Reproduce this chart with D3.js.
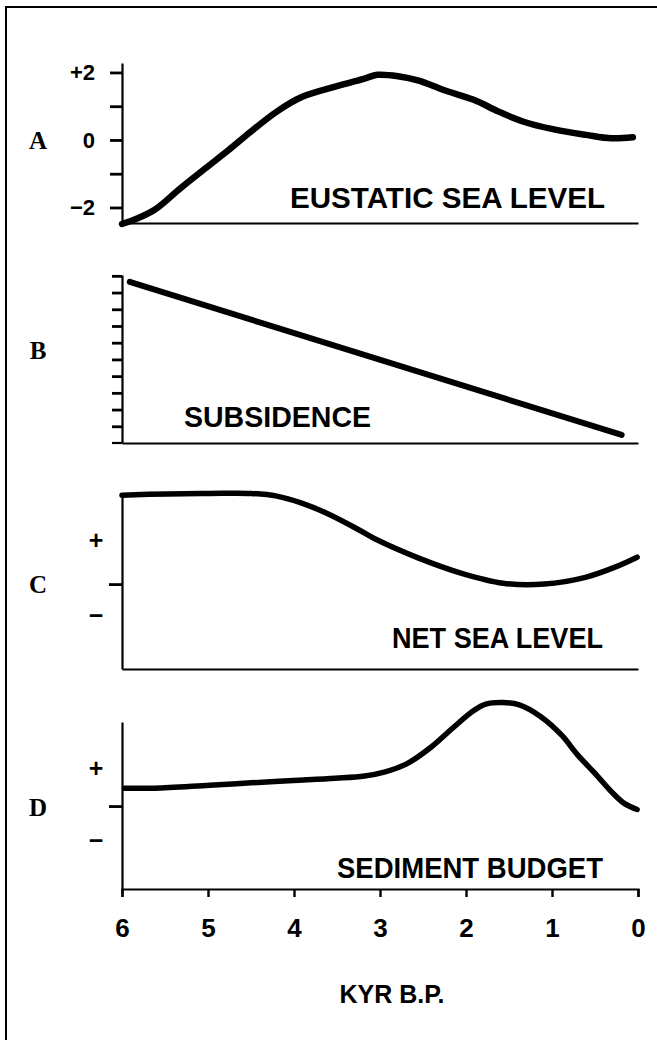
<!DOCTYPE html>
<html>
<head>
<meta charset="utf-8">
<script src="https://cdn.jsdelivr.net/npm/d3@7"></script>
<style>
    body { margin: 0; background: #fff; }
    svg { display: block; }
</style>
</head>
<body>
<div id="chart"></div>
<script>
// time axis, thousands of years before present
const kyrTicks = [6, 5, 4, 3, 2, 1, 0];

// A - eustatic sea level (m)
const eustaticKyr = [6.0, 5.81, 5.62, 5.32, 5.03, 4.76, 4.50, 4.20, 3.91, 3.52, 3.18, 3.03, 2.79, 2.55, 2.26, 1.91, 1.62, 1.33, 0.99, 0.60, 0.31, 0.06];
const eustaticLevel = [-2.49, -2.31, -2.07, -1.43, -0.84, -0.30, 0.25, 0.84, 1.27, 1.58, 1.82, 1.93, 1.89, 1.76, 1.48, 1.19, 0.84, 0.54, 0.32, 0.15, 0.05, 0.08];
const eustaticTicks = [-2, -1, 0, 1, 2];
const eustaticTickLabels = {'2': '+2', '0': '0', '-2': '\u22122'};

// B - subsidence (arbitrary units, one per tick)
const subsidenceKyr = [5.91, 0.19];
const subsidenceVal = [9.64, 0.48];
const subsidenceTicks = [1, 2, 3, 4, 5, 6, 7, 8, 9, 10];

// C - net sea level (relative)
const netKyr = [6.0, 5.47, 4.98, 4.5, 4.2, 3.91, 3.62, 3.28, 3.03, 2.55, 2.06, 1.57, 1.09, 0.60, 0.26, 0.01];
const netLevel = [2.02, 2.05, 2.06, 2.06, 2.0, 1.84, 1.61, 1.27, 1.0, 0.59, 0.25, 0.02, 0.0, 0.16, 0.39, 0.61];

// D - sediment budget (relative)
const sedimentKyr = [5.97, 5.62, 4.98, 4.5, 4.01, 3.52, 3.18, 2.94, 2.69, 2.40, 2.16, 1.91, 1.77, 1.57, 1.38, 1.13, 0.89, 0.70, 0.50, 0.31, 0.16, 0.01];
const sedimentBudget = [0.47, 0.47, 0.55, 0.61, 0.67, 0.73, 0.79, 0.90, 1.11, 1.56, 2.04, 2.51, 2.68, 2.72, 2.66, 2.35, 1.87, 1.34, 0.86, 0.38, 0.07, -0.09];

const titles = ['EUSTATIC SEA LEVEL', 'SUBSIDENCE', 'NET SEA LEVEL', 'SEDIMENT BUDGET'];
const letters = ['A', 'B', 'C', 'D'];
const signLabels = ['+', '\u2212'];

const width = 657, height = 1040;
const sans = "'Liberation Sans', Arial, Helvetica, sans-serif";
const serif = "'Liberation Serif', 'Times New Roman', serif";

const svg = d3.select('#chart').append('svg')
    .attr('width', width)
    .attr('height', height);

// frame (top and left edges only)
svg.append('path')
    .attr('d', `M6,${height} V7 H${width}`)
    .attr('fill', 'none')
    .attr('stroke', '#000')
    .attr('stroke-width', 2);

const x = d3.scaleLinear().domain([6, 0]).range([122, 638]);

// panel layout
const panels = [
    {top: 63, bottom: 223, domain: [-2.46, 2.28], kyr: eustaticKyr, vals: eustaticLevel,
     titleX: 290, titleW: 315, titleY: 208, letterY: 140, stroke: 6.5},
    {top: 275, bottom: 443, domain: [0, 10.05], kyr: subsidenceKyr, vals: subsidenceVal,
     titleX: 184, titleW: 187, titleY: 427, letterY: 350, stroke: 6},
    {top: 493, bottom: 669, domain: [-1.93, 2.07], kyr: netKyr, vals: netLevel,
     titleX: 392, titleW: 211, titleY: 648, letterY: 584, stroke: 5.5, signs: [1.0, -0.7]},
    {top: 722, bottom: 889, domain: [-2.18, 2.21], kyr: sedimentKyr, vals: sedimentBudget,
     titleX: 337, titleW: 266, titleY: 878, letterY: 807, stroke: 5.5, signs: [1.0, -0.89]}
];

panels.forEach((p, i) => {
    const y = d3.scaleLinear().domain(p.domain).range([p.bottom, p.top]);
    const g = svg.append('g');

    // y axis
    let yAxis;
    if (i === 0) {
        yAxis = d3.axisLeft(y).tickValues(eustaticTicks).tickSize(12).tickSizeOuter(0)
            .tickPadding(15).tickFormat(d => eustaticTickLabels[d] || '');
    } else if (i === 1) {
        yAxis = d3.axisLeft(y).tickValues(subsidenceTicks).tickSize(10).tickSizeOuter(0).tickFormat('');
    } else {
        yAxis = d3.axisLeft(y).tickValues([0]).tickSize(13).tickSizeOuter(0).tickFormat('');
    }
    const ya = g.append('g')
        .attr('transform', `translate(${x(6)},0)`)
        .call(yAxis);
    ya.select('.domain').attr('stroke-width', 2.2);
    ya.selectAll('.tick line').attr('stroke-width', 2.8);
    ya.selectAll('.tick text')
        .attr('font-family', sans)
        .attr('font-weight', 'bold')
        .attr('font-size', 22)
        .attr('fill', '#000');

    // x axis (baseline)
    const xAxis = d3.axisBottom(x).tickSizeOuter(0);
    if (i === 3) {
        xAxis.tickValues(kyrTicks).tickSize(8).tickPadding(22).tickFormat(d3.format('d'));
    } else {
        xAxis.tickValues([]);
    }
    const xa = g.append('g')
        .attr('transform', `translate(0,${p.bottom})`)
        .call(xAxis);
    xa.select('.domain').attr('stroke-width', 2.2);
    xa.selectAll('.tick line').attr('stroke-width', 2.4);
    xa.selectAll('.tick text')
        .attr('font-family', sans)
        .attr('font-weight', 'bold')
        .attr('font-size', 26)
        .attr('fill', '#000');

    if (i === 1) {
        // baseline stub left of the axis
        g.append('line')
            .attr('x1', x(6) - 10).attr('x2', x(6))
            .attr('y1', y(0)).attr('y2', y(0))
            .attr('stroke', '#000').attr('stroke-width', 2.2);
    }

    // +/- sign labels
    if (p.signs) {
        p.signs.forEach((v, k) => {
            g.append('text')
                .text(signLabels[k])
                .attr('x', x(6) - 26)
                .attr('y', y(v))
                .attr('dy', '0.35em')
                .attr('text-anchor', 'middle')
                .attr('font-family', sans)
                .attr('font-weight', 'bold')
                .attr('font-size', 25);
        });
    }

    // curve
    const pts = p.kyr.map((k, j) => [k, p.vals[j]]);
    g.append('path')
        .datum(pts)
        .attr('fill', 'none')
        .attr('stroke', '#000')
        .attr('stroke-width', p.stroke)
        .attr('stroke-linecap', 'round')
        .attr('stroke-linejoin', 'round')
        .attr('d', d3.line()
            .x(d => x(d[0]))
            .y(d => y(d[1]))
            .curve(d3.curveCatmullRom.alpha(0.5)));

    // panel title
    g.append('text')
        .text(titles[i])
        .attr('x', p.titleX)
        .attr('y', p.titleY)
        .attr('textLength', p.titleW)
        .attr('lengthAdjust', 'spacingAndGlyphs')
        .attr('font-family', sans)
        .attr('font-weight', 'bold')
        .attr('font-size', 30);

    // panel letter
    g.append('text')
        .text(letters[i])
        .attr('x', 38)
        .attr('y', p.letterY)
        .attr('dy', '0.35em')
        .attr('text-anchor', 'middle')
        .attr('font-family', serif)
        .attr('font-weight', 'bold')
        .attr('font-size', 25);
});

// x axis title
svg.append('text')
    .text('KYR B.P.')
    .attr('x', 392)
    .attr('y', 1003)
    .attr('text-anchor', 'middle')
    .attr('font-family', sans)
    .attr('font-weight', 'bold')
    .attr('font-size', 25);
</script>
</body>
</html>
